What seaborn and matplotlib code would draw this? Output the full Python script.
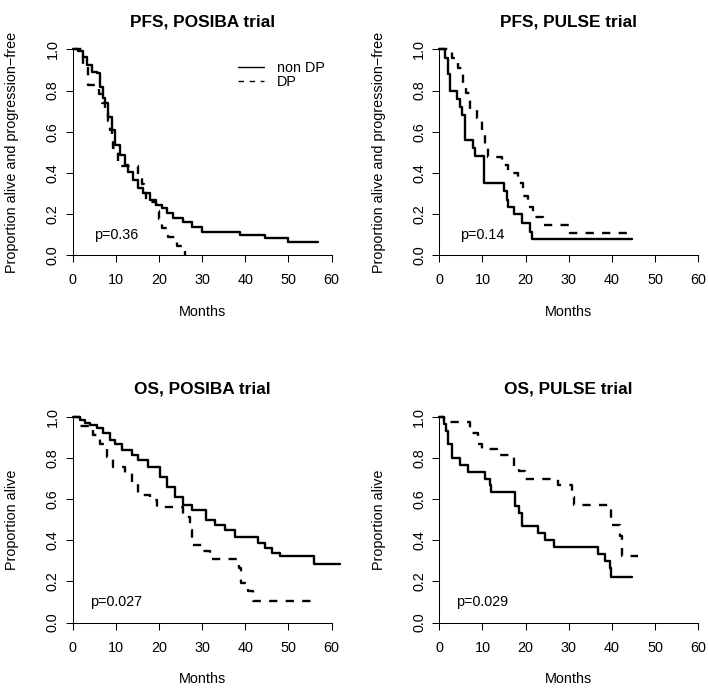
import pandas as pd
import matplotlib.pyplot as plt
import seaborn as sns
from matplotlib.lines import Line2D

# ---- data (step points: time, survival) ----
# PFS, POSIBA trial
pfs_posiba_ndp_t = [0, 1.3, 2.5, 3.4, 4.4, 5.6, 6.3, 7.1, 7.5, 8.3, 9.0, 9.8, 10.9, 12.1, 12.9, 14.0,
                    15.2, 16.4, 17.9, 19.4, 20.6, 21.8, 23.3, 25.6, 27.6, 29.9, 38.8, 44.6, 50.0, 56.9]
pfs_posiba_ndp_s = [1.0, 0.99, 0.965, 0.923, 0.891, 0.883, 0.818, 0.762, 0.737, 0.673, 0.608, 0.535, 0.487,
                    0.438, 0.406, 0.365, 0.325, 0.300, 0.268, 0.244, 0.228, 0.203, 0.179, 0.163, 0.138,
                    0.114, 0.098, 0.082, 0.066, 0.066]
pfs_posiba_dp_t = [0, 2.5, 3.5, 6.0, 6.8, 7.5, 8.3, 8.6, 9.0, 9.4, 10.5, 15.2, 16.0, 16.5, 17.1,
                   19.4, 20.0, 20.6, 22.1, 24.1, 26.0]
pfs_posiba_dp_s = [1.0, 0.913, 0.826, 0.783, 0.739, 0.696, 0.652, 0.609, 0.565, 0.522, 0.435, 0.391,
                   0.348, 0.304, 0.261, 0.217, 0.174, 0.130, 0.087, 0.043, 0.0]

# PFS, PULSE trial
pfs_pulse_ndp_t = [0, 1.3, 2.1, 2.5, 4.0, 4.8, 5.3, 5.9, 7.8, 8.3, 10.3, 14.9, 15.6, 16.0, 17.3,
                   19.1, 21.0, 21.5, 44.6]
pfs_pulse_ndp_s = [1.0, 0.96, 0.88, 0.80, 0.76, 0.72, 0.68, 0.56, 0.52, 0.48, 0.35, 0.31, 0.27, 0.235,
                   0.20, 0.155, 0.115, 0.08, 0.08]
pfs_pulse_dp_t = [0, 2.9, 4.4, 5.6, 6.3, 7.1, 8.7, 9.8, 10.6, 11.3, 14.5, 16.0, 18.3, 19.5, 20.6,
                  21.8, 24.1, 30.3, 44.2]
pfs_pulse_dp_s = [1.0, 0.956, 0.91, 0.83, 0.786, 0.71, 0.666, 0.59, 0.527, 0.475, 0.438, 0.40, 0.35,
                  0.29, 0.236, 0.187, 0.147, 0.11, 0.11]

# OS, POSIBA trial
os_posiba_ndp_t = [0, 1.7, 2.9, 4.0, 5.6, 7.1, 8.6, 9.8, 11.4, 13.7, 15.2, 17.5, 20.2, 21.8, 23.7,
                   25.6, 27.6, 31.0, 33.0, 35.3, 37.6, 43.0, 44.5, 46.1, 48.0, 56.0, 62.0]
os_posiba_ndp_s = [1.0, 0.984, 0.968, 0.96, 0.944, 0.92, 0.885, 0.866, 0.839, 0.814, 0.79, 0.758,
                   0.709, 0.661, 0.612, 0.572, 0.545, 0.50, 0.475, 0.451, 0.418, 0.386, 0.362, 0.338,
                   0.325, 0.284, 0.284]
os_posiba_dp_t = [0, 1.7, 4.8, 6.3, 7.9, 9.4, 12.1, 13.7, 15.2, 17.9, 19.5, 25.6, 27.2, 27.6, 30.3,
                  31.8, 38.5, 39.1, 40.7, 41.8, 55.7]
os_posiba_dp_s = [1.0, 0.957, 0.913, 0.87, 0.806, 0.758, 0.726, 0.677, 0.62, 0.596, 0.56, 0.515, 0.45,
                  0.378, 0.346, 0.31, 0.265, 0.192, 0.152, 0.103, 0.103]

# OS, PULSE trial
os_pulse_ndp_t = [0, 1.0, 1.5, 2.0, 2.9, 4.8, 6.7, 10.6, 11.7, 12.1, 17.5, 18.5, 19.1, 22.9, 24.5,
                  26.5, 36.8, 38.4, 39.6, 39.9, 44.6]
os_pulse_ndp_s = [1.0, 0.967, 0.933, 0.867, 0.80, 0.767, 0.733, 0.70, 0.667, 0.633, 0.567, 0.533,
                  0.467, 0.433, 0.40, 0.367, 0.333, 0.30, 0.267, 0.22, 0.22]
os_pulse_dp_t = [0, 1.0, 7.1, 9.0, 9.8, 13.3, 17.2, 18.5, 19.8, 27.5, 30.8, 31.3, 39.9, 41.9, 42.3, 46.1]
os_pulse_dp_s = [1.0, 0.974, 0.921, 0.868, 0.842, 0.815, 0.763, 0.737, 0.70, 0.669, 0.61, 0.569,
                 0.474, 0.421, 0.325, 0.325]

titles = ["PFS, POSIBA trial", "PFS, PULSE trial", "OS, POSIBA trial", "OS, PULSE trial"]
ylabels = ["Proportion alive and progression\u2212free", "Proportion alive and progression\u2212free",
           "Proportion alive", "Proportion alive"]
pvalues = ["p=0.36", "p=0.14", "p=0.027", "p=0.029"]
groups = ["non DP", "DP"]

curves = [
    (pfs_posiba_ndp_t, pfs_posiba_ndp_s, pfs_posiba_dp_t, pfs_posiba_dp_s),
    (pfs_pulse_ndp_t, pfs_pulse_ndp_s, pfs_pulse_dp_t, pfs_pulse_dp_s),
    (os_posiba_ndp_t, os_posiba_ndp_s, os_posiba_dp_t, os_posiba_dp_s),
    (os_pulse_ndp_t, os_pulse_ndp_s, os_pulse_dp_t, os_pulse_dp_s),
]

sns.set_theme(style="ticks", rc={"axes.edgecolor": "black", "text.color": "black",
                                 "axes.labelcolor": "black", "xtick.color": "black",
                                 "ytick.color": "black", "axes.linewidth": 0.75})
plt.rcParams['font.family'] = ['Liberation Sans', 'DejaVu Sans']

fig = plt.figure(figsize=(7.08, 6.92), dpi=100)
W, H = 708, 692
# axes boxes in pixels: left, top (width/height shared)
boxes = [(62.3, 41.1), (428.9, 41.1), (62.3, 408.5), (428.9, 408.5)]
aw, ah = 279.7, 222.4

DASH = (3.5, 3.5)
LW = 1.7
FS = 10.4

for i, (left, top) in enumerate(boxes):
    ax = fig.add_axes([left / W, 1 - (top + ah) / H, aw / W, ah / H])
    t1, s1, t2, s2 = curves[i]
    df = pd.DataFrame({
        "Months": t1 + t2,
        "Surv": s1 + s2,
        "Group": [groups[0]] * len(t1) + [groups[1]] * len(t2),
    })
    sns.lineplot(data=df, x="Months", y="Surv", style="Group", style_order=groups,
                 dashes={"non DP": "", "DP": DASH}, color="black", linewidth=LW,
                 drawstyle="steps-post", estimator=None, sort=False, legend=False, ax=ax)

    ax.set_xlim(-2.4, 62.4)
    ax.set_ylim(-0.04, 1.04)
    for s in ["top", "right"]:
        ax.spines[s].set_visible(False)
    ax.spines["left"].set_position(("data", 0))
    ax.spines["bottom"].set_position(("data", 0))
    ax.spines["left"].set_bounds(0, 1)
    ax.spines["bottom"].set_bounds(0, 60)
    ax.set_xticks(range(0, 61, 10))
    ax.set_yticks([0, 0.2, 0.4, 0.6, 0.8, 1.0])
    ax.set_yticklabels(["0.0", "0.2", "0.4", "0.6", "0.8", "1.0"])
    ax.tick_params(axis="both", direction="out", length=5, width=0.75, labelsize=FS, colors="black")
    ax.tick_params(axis="x", pad=8)
    ax.tick_params(axis="y", pad=4.5, labelrotation=90)
    for lab in ax.get_yticklabels():
        lab.set_va("center")

    ax.set_title(titles[i], fontsize=12.4, fontweight="bold", pad=10.8, color="black")
    ax.set_xlabel("Months", fontsize=FS)
    ax.set_ylabel(ylabels[i], fontsize=FS)
    ax.xaxis.set_label_coords(0.5, -0.218)
    ax.xaxis.label.set_va("center")
    ax.yaxis.set_label_coords(-0.18, 0.5)
    ax.yaxis.label.set_va("center")

    ax.text(10, 0.1, pvalues[i], ha="center", va="center", fontsize=FS, color="black")

    if i == 0:
        handles = [Line2D([], [], color="black", lw=1.0),
                   Line2D([], [], color="black", lw=1.0, dashes=(4, 4))]
        ax.legend(handles, groups, loc="center left", bbox_to_anchor=(38.2, 0.875),
                  bbox_transform=ax.transData, frameon=False, fontsize=FS,
                  handlelength=1.8, handletextpad=0.95, labelspacing=0.0,
                  borderpad=0, borderaxespad=0, labelcolor="black")

fig.savefig("out.png", dpi=100)
